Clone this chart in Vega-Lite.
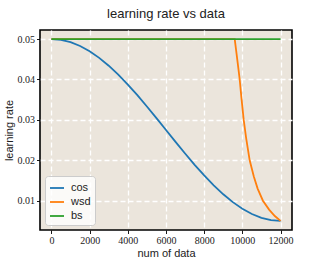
{
  "$schema": "https://vega.github.io/schema/vega-lite/v6.json",
  "width": 252,
  "height": 200,
  "autosize": {"type": "none"},
  "padding": {"left": 40, "top": 30, "right": 32, "bottom": 29},
  "background": "white",
  "title": {"text": "learning rate vs data", "font": "Liberation Sans", "fontSize": 13, "fontWeight": "normal", "color": "#222", "offset": 9},
  "config": {
    "view": {"fill": "#ebe5dc", "stroke": "black", "strokeWidth": 1.6},
    "axis": {
      "labelFont": "Liberation Serif", "labelFontSize": 10, "labelColor": "#222",
      "titleFont": "Liberation Sans", "titleFontSize": 11, "titleFontWeight": "normal", "titleColor": "#222",
      "tickColor": "black", "tickSize": 3.5, "tickWidth": 0.9,
      "domain": false,
      "grid": true, "gridColor": "white", "gridDash": [5, 3], "gridWidth": 1.3, "gridOpacity": 1
    }
  },
  "data": {"values": [
    {"t": 0, "lr": 0.05, "s": "cos"},
    {"t": 500, "lr": 0.049807, "s": "cos"},
    {"t": 1000, "lr": 0.049233, "s": "cos"},
    {"t": 1500, "lr": 0.048287, "s": "cos"},
    {"t": 2000, "lr": 0.046986, "s": "cos"},
    {"t": 2500, "lr": 0.04535, "s": "cos"},
    {"t": 3000, "lr": 0.04341, "s": "cos"},
    {"t": 3500, "lr": 0.041197, "s": "cos"},
    {"t": 4000, "lr": 0.03875, "s": "cos"},
    {"t": 4500, "lr": 0.03611, "s": "cos"},
    {"t": 5000, "lr": 0.033323, "s": "cos"},
    {"t": 5500, "lr": 0.030437, "s": "cos"},
    {"t": 6000, "lr": 0.0275, "s": "cos"},
    {"t": 6500, "lr": 0.024563, "s": "cos"},
    {"t": 7000, "lr": 0.021677, "s": "cos"},
    {"t": 7500, "lr": 0.01889, "s": "cos"},
    {"t": 8000, "lr": 0.01625, "s": "cos"},
    {"t": 8500, "lr": 0.013803, "s": "cos"},
    {"t": 9000, "lr": 0.01159, "s": "cos"},
    {"t": 9500, "lr": 0.00965, "s": "cos"},
    {"t": 10000, "lr": 0.008014, "s": "cos"},
    {"t": 10500, "lr": 0.006713, "s": "cos"},
    {"t": 11000, "lr": 0.005767, "s": "cos"},
    {"t": 11500, "lr": 0.005193, "s": "cos"},
    {"t": 12000, "lr": 0.005, "s": "cos"},
    {"t": 0, "lr": 0.05, "s": "wsd"},
    {"t": 9600, "lr": 0.05, "s": "wsd"},
    {"t": 9700, "lr": 0.0462, "s": "wsd"},
    {"t": 9800, "lr": 0.0424, "s": "wsd"},
    {"t": 9861, "lr": 0.04, "s": "wsd"},
    {"t": 9950, "lr": 0.0355, "s": "wsd"},
    {"t": 10070, "lr": 0.03, "s": "wsd"},
    {"t": 10200, "lr": 0.0254, "s": "wsd"},
    {"t": 10383, "lr": 0.02, "s": "wsd"},
    {"t": 10600, "lr": 0.016, "s": "wsd"},
    {"t": 10800, "lr": 0.013, "s": "wsd"},
    {"t": 11077, "lr": 0.01, "s": "wsd"},
    {"t": 11400, "lr": 0.0078, "s": "wsd"},
    {"t": 11700, "lr": 0.0062, "s": "wsd"},
    {"t": 12000, "lr": 0.005, "s": "wsd"},
    {"t": 0, "lr": 0.05, "s": "bs"},
    {"t": 12000, "lr": 0.05, "s": "bs"}
  ]},
  "mark": {"type": "line", "strokeWidth": 1.8, "clip": true},
  "encoding": {
    "x": {"field": "t", "type": "quantitative", "title": "num of data",
      "scale": {"domain": [-600, 12600], "nice": false, "zero": false},
      "axis": {"values": [0, 2000, 4000, 6000, 8000, 10000, 12000], "format": "d", "labelPadding": 2, "titlePadding": 2}},
    "y": {"field": "lr", "type": "quantitative", "title": "learning rate",
      "scale": {"domain": [0.00275, 0.05225], "nice": false, "zero": false},
      "axis": {"values": [0.01, 0.02, 0.03, 0.04, 0.05], "format": ".2f", "labelPadding": 2, "titlePadding": 3}},
    "color": {"field": "s", "type": "nominal", "title": null,
      "scale": {"domain": ["cos", "wsd", "bs"], "range": ["#1f77b4", "#ff7f0e", "#2ca02c"]},
      "legend": {"orient": "bottom-left", "offset": 5, "symbolType": "stroke", "symbolSize": 196, "symbolStrokeWidth": 1.8,
        "labelFont": "Liberation Sans", "labelFontSize": 11, "labelColor": "#222", "labelOffset": 6,
        "rowPadding": 1, "padding": 4, "fillColor": "rgba(255,255,255,0.8)", "strokeColor": "#cccccc", "cornerRadius": 3}},
    "order": {"field": "t", "type": "quantitative"}
  }
}
